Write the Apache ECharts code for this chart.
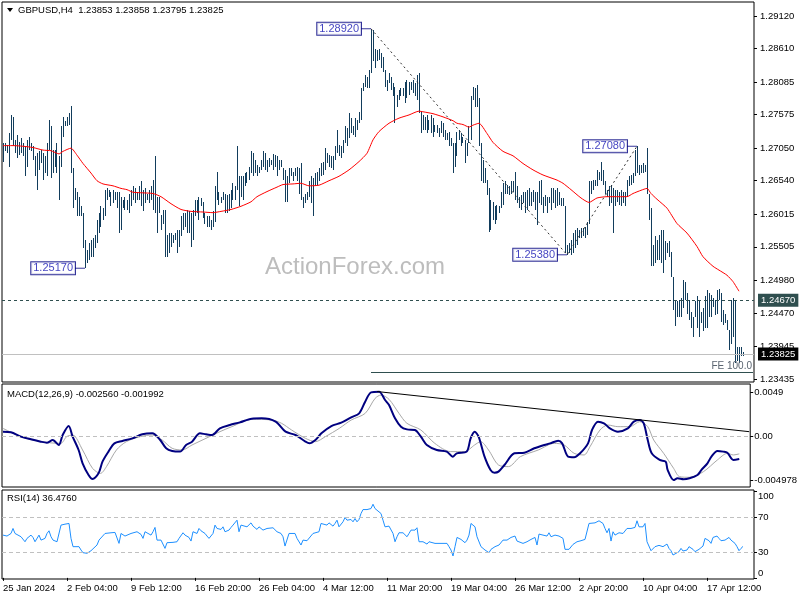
<!DOCTYPE html>
<html><head><meta charset="utf-8">
<script src="https://cdn.jsdelivr.net/npm/echarts@6/dist/echarts.min.js"></script>
<style>html,body{margin:0;padding:0;background:#fff}#c{width:800px;height:600px}</style>
</head><body><div id="c"></div>
<script>
// ---------- DATA ----------
const xTickLabels = ['25 Jan 2024','2 Feb 04:00','9 Feb 12:00','16 Feb 20:00','26 Feb 04:00','4 Mar 12:00','11 Mar 20:00','19 Mar 04:00','26 Mar 12:00','2 Apr 20:00','10 Apr 04:00','17 Apr 12:00'];
const priceTicks = [1.29120,1.28610,1.28085,1.27575,1.27050,1.26540,1.26015,1.25505,1.24980,1.24470,1.23945,1.23435];
const macdTicks = [0.0049, 0, -0.004978];
const macdTickText = ['0.0049', '0.00', '-0.004978'];
const rsiTicks = [100, 70, 30, 0];

const highs = [
1.2713,1.2713,1.2710,1.2728,1.2757,1.2754,1.2718,1.2726,1.2715,1.2721,
1.2713,1.2708,1.2718,1.2723,1.2713,1.2708,1.2692,1.2697,1.2700,1.2702,
1.2697,1.2692,1.2713,1.2749,1.2739,1.2702,1.2702,1.2713,1.2692,1.2739,
1.2754,1.2747,1.2754,1.2760,1.2771,1.2674,1.2642,1.2637,1.2629,1.2614,
1.2603,1.2561,1.2546,1.2556,1.2561,1.2564,1.2569,1.2593,1.2603,1.2614,
1.2611,1.2640,1.2642,1.2640,1.2637,1.2640,1.2637,1.2637,1.2637,1.2629,
1.2624,1.2629,1.2624,1.2634,1.2640,1.2645,1.2642,1.2637,1.2645,1.2653,
1.2640,1.2642,1.2634,1.2640,1.2645,1.2655,1.2692,1.2629,1.2629,1.2601,
1.2608,1.2608,1.2569,1.2572,1.2572,1.2569,1.2572,1.2577,1.2577,1.2598,
1.2603,1.2603,1.2608,1.2606,1.2603,1.2608,1.2624,1.2624,1.2629,1.2627,
1.2621,1.2603,1.2598,1.2598,1.2593,1.2606,1.2645,1.2668,1.2637,1.2629,
1.2637,1.2634,1.2632,1.2634,1.2640,1.2650,1.2645,1.2708,1.2661,1.2661,
1.2661,1.2666,1.2668,1.2676,1.2700,1.2697,1.2687,1.2679,1.2676,1.2687,
1.2700,1.2697,1.2687,1.2689,1.2687,1.2696,1.2694,1.2692,1.2687,1.2687,
1.2674,1.2671,1.2661,1.2674,1.2674,1.2668,1.2674,1.2676,1.2674,1.2681,
1.2629,1.2634,1.2637,1.2653,1.2661,1.2658,1.2666,1.2668,1.2674,1.2681,
1.2684,1.2705,1.2697,1.2694,1.2692,1.2692,1.2708,1.2734,1.2710,1.2708,
1.2718,1.2739,1.2736,1.2760,1.2752,1.2739,1.2752,1.2749,1.2762,1.2799,
1.2807,1.2820,1.2817,1.2827,1.2892,1.2890,1.2861,1.2859,1.2861,1.2854,
1.2848,1.2827,1.2812,1.2822,1.2817,1.2807,1.2801,1.2788,1.2796,1.2799,
1.2799,1.2809,1.2812,1.2809,1.2809,1.2812,1.2807,1.2820,1.2822,1.2762,
1.2757,1.2754,1.2757,1.2749,1.2757,1.2752,1.2741,1.2741,1.2736,1.2747,
1.2744,1.2734,1.2728,1.2731,1.2721,1.2713,1.2713,1.2731,1.2734,1.2728,
1.2723,1.2718,1.2713,1.2739,1.2786,1.2801,1.2799,1.2804,1.2783,1.2713,
1.2687,1.2674,1.2655,1.2642,1.2624,1.2621,1.2614,1.2616,1.2614,1.2637,
1.2650,1.2653,1.2647,1.2645,1.2653,1.2653,1.2668,1.2645,1.2629,1.2632,
1.2637,1.2637,1.2640,1.2642,1.2637,1.2640,1.2637,1.2637,1.2653,1.2655,
1.2629,1.2632,1.2629,1.2629,1.2642,1.2642,1.2640,1.2642,1.2637,1.2627,
1.2627,1.2614,1.2554,1.2556,1.2561,1.2572,1.2577,1.2580,1.2577,1.2580,
1.2580,1.2582,1.2590,1.2653,1.2653,1.2655,1.2655,1.2671,1.2668,1.2684,
1.2671,1.2653,1.2640,1.2645,1.2647,1.2642,1.2640,1.2640,1.2637,1.2640,
1.2637,1.2637,1.2655,1.2661,1.2663,1.2666,1.2702,1.2708,1.2679,1.2679,
1.2681,1.2679,1.2705,1.2634,1.2611,1.2554,1.2567,1.2561,1.2569,1.2577,
1.2577,1.2559,1.2556,1.2559,1.2543,1.2504,1.2467,1.2465,1.2467,1.2470,
1.2499,1.2496,1.2478,1.2467,1.2449,1.2441,1.2465,1.2473,1.2467,1.2449,
1.2454,1.2473,1.2483,1.2478,1.2475,1.2470,1.2467,1.2483,1.2485,1.2478,
1.2452,1.2446,1.2436,1.2420,1.2467,1.2470,1.2467,1.2394,1.2394,1.2394,
1.23858];

const lows = [
1.2684,1.2700,1.2697,1.2676,1.2718,1.2708,1.2697,1.2689,1.2694,1.2697,
1.2692,1.2661,1.2676,1.2702,1.2700,1.2687,1.2661,1.2639,1.2671,1.2681,
1.2655,1.2666,1.2661,1.2702,1.2658,1.2666,1.2676,1.2666,1.2624,1.2676,
1.2723,1.2739,1.2739,1.2741,1.2666,1.2611,1.2624,1.2598,1.2598,1.2598,
1.2548,1.2517,1.2525,1.2530,1.2535,1.2535,1.2548,1.2556,1.2572,1.2582,
1.2593,1.2598,1.2624,1.2629,1.2614,1.2619,1.2624,1.2611,1.2572,1.2577,
1.2611,1.2608,1.2608,1.2603,1.2614,1.2624,1.2619,1.2624,1.2624,1.2614,
1.2606,1.2619,1.2624,1.2619,1.2624,1.2608,1.2603,1.2572,1.2603,1.2577,
1.2587,1.2535,1.2535,1.2541,1.2551,1.2556,1.2561,1.2541,1.2551,1.2567,
1.2577,1.2582,1.2572,1.2572,1.2551,1.2561,1.2598,1.2603,1.2593,1.2614,
1.2595,1.2587,1.2582,1.2582,1.2577,1.2582,1.2590,1.2624,1.2616,1.2619,
1.2624,1.2603,1.2603,1.2606,1.2611,1.2624,1.2624,1.2640,1.2614,1.2629,
1.2624,1.2645,1.2650,1.2655,1.2666,1.2661,1.2666,1.2661,1.2666,1.2671,
1.2676,1.2671,1.2668,1.2676,1.2679,1.2671,1.2676,1.2661,1.2671,1.2676,
1.2655,1.2621,1.2621,1.2650,1.2661,1.2653,1.2661,1.2653,1.2634,1.2624,
1.2611,1.2619,1.2624,1.2629,1.2619,1.2598,1.2645,1.2647,1.2653,1.2661,
1.2663,1.2671,1.2681,1.2676,1.2674,1.2671,1.2687,1.2697,1.2692,1.2689,
1.2697,1.2713,1.2708,1.2721,1.2728,1.2726,1.2723,1.2734,1.2744,1.2749,
1.2794,1.2801,1.2799,1.2799,1.2822,1.2841,1.2830,1.2841,1.2843,1.2830,
1.2825,1.2801,1.2794,1.2807,1.2796,1.2786,1.2744,1.2770,1.2781,1.2786,
1.2786,1.2775,1.2783,1.2788,1.2796,1.2791,1.2786,1.2781,1.2760,1.2728,
1.2734,1.2734,1.2728,1.2734,1.2728,1.2723,1.2731,1.2728,1.2723,1.2728,
1.2723,1.2718,1.2718,1.2708,1.2708,1.2666,1.2676,1.2692,1.2718,1.2708,
1.2713,1.2681,1.2692,1.2713,1.2718,1.2781,1.2770,1.2770,1.2708,1.2653,
1.2650,1.2650,1.2632,1.2574,1.2577,1.2593,1.2587,1.2593,1.2603,1.2611,
1.2616,1.2634,1.2634,1.2632,1.2634,1.2637,1.2624,1.2619,1.2611,1.2608,
1.2619,1.2603,1.2608,1.2614,1.2614,1.2621,1.2608,1.2585,1.2619,1.2616,
1.2603,1.2614,1.2603,1.2619,1.2608,1.2619,1.2611,1.2614,1.2616,1.2614,
1.2614,1.2541,1.2538,1.2541,1.2538,1.2541,1.2548,1.2554,1.2564,1.2564,
1.2567,1.2564,1.2569,1.2587,1.2634,1.2640,1.2645,1.2645,1.2655,1.2653,
1.2647,1.2634,1.2629,1.2614,1.2619,1.2572,1.2614,1.2621,1.2616,1.2614,
1.2619,1.2614,1.2629,1.2645,1.2647,1.2650,1.2661,1.2666,1.2663,1.2666,
1.2666,1.2668,1.2634,1.2593,1.2520,1.2520,1.2525,1.2530,1.2530,1.2525,
1.2509,1.2530,1.2541,1.2535,1.2504,1.2452,1.2426,1.2441,1.2441,1.2441,
1.2454,1.2467,1.2446,1.2436,1.2423,1.2410,1.2441,1.2423,1.2410,1.2431,
1.2418,1.2423,1.2423,1.2441,1.2441,1.2457,1.2444,1.2446,1.2467,1.2433,
1.2428,1.2431,1.2420,1.2389,1.2399,1.2410,1.2368,1.2371,1.2368,1.2379,
1.23795];

// red moving average, read at [bar index, price]
const maPoints = [[0,1.2709],[5,1.2709],[10,1.2708],[15,1.2706],[20,1.2702],[24,1.2701],[28,1.2696],[30,1.2700],[34,1.2705],[37,1.2694],[40,1.2681],[44,1.2666],[47,1.2654],[50,1.2649],[55,1.2646],[59,1.2642],[62,1.2640],[65,1.2636],[70,1.2635],[75,1.2634],[79,1.2629],[84,1.2618],[89,1.2609],[94,1.2606],[100,1.2605],[105,1.2604],[109,1.2606],[114,1.2609],[119,1.2614],[124,1.2621],[127,1.2629],[132,1.2637],[137,1.2644],[140,1.2648],[145,1.2649],[149,1.2650],[153,1.2646],[158,1.2647],[163,1.2654],[168,1.2661],[173,1.2671],[178,1.2684],[182,1.2697],[185,1.2718],[188,1.2731],[193,1.2744],[198,1.2752],[203,1.2757],[208,1.2763],[210,1.2762],[215,1.2759],[220,1.2754],[225,1.2748],[227,1.2744],[230,1.2742],[233,1.2738],[235,1.2741],[238,1.2744],[242,1.2728],[245,1.2714],[250,1.2700],[255,1.2693],[260,1.2681],[265,1.2671],[270,1.2663],[277,1.2655],[280,1.2650],[284,1.2640],[289,1.2627],[293,1.2620],[297,1.2627],[302,1.2629],[308,1.2629],[312,1.2629],[315,1.2634],[319,1.2639],[322,1.2642],[324,1.2634],[327,1.2625],[332,1.2611],[337,1.2587],[342,1.2572],[347,1.2551],[350,1.2535],[355,1.2520],[358,1.2514],[362,1.2506],[365,1.2496],[368,1.2481]];

const macdPoints = [[0,0.00048],[4,0.00041],[9,-0.00007],[14,-0.00037],[19,-0.00063],[22,-0.00074],[25,-0.00045],[28,-0.00100],[30,0.00011],[33,0.00111],[35,-0.00007],[38,-0.00156],[40,-0.00304],[43,-0.00434],[45,-0.00479],[48,-0.00416],[50,-0.00286],[53,-0.00174],[56,-0.00082],[60,-0.00056],[65,-0.00026],[70,0.00019],[75,0.00030],[79,-0.00045],[82,-0.00137],[85,-0.00167],[89,-0.00174],[92,-0.00100],[95,-0.00063],[99,0.00030],[102,0.00019],[105,0.00011],[109,0.00085],[114,0.00122],[119,0.00152],[125,0.00193],[130,0.00197],[137,0.00160],[142,0.00048],[147,0.00011],[152,-0.00063],[154,-0.00082],[157,-0.00045],[160,0.00030],[165,0.00111],[170,0.00148],[175,0.00208],[179,0.00252],[182,0.00382],[185,0.00486],[189,0.00493],[192,0.00401],[194,0.00345],[197,0.00197],[200,0.00104],[203,0.00074],[207,0.00067],[210,-0.00007],[213,-0.00100],[218,-0.00156],[223,-0.00174],[226,-0.00230],[228,-0.00193],[233,-0.00174],[235,-0.00026],[237,0.00048],[239,-0.00007],[242,-0.00230],[245,-0.00378],[247,-0.00408],[249,-0.00397],[252,-0.00323],[257,-0.00193],[262,-0.00186],[267,-0.00137],[272,-0.00100],[275,-0.00082],[279,-0.00052],[281,-0.00082],[284,-0.00230],[287,-0.00237],[290,-0.00193],[294,-0.00082],[296,0.00067],[299,0.00160],[302,0.00141],[305,0.00085],[309,0.00048],[314,0.00085],[317,0.00160],[320,0.00178],[322,0.00141],[324,-0.00045],[326,-0.00193],[330,-0.00267],[333,-0.00286],[334,-0.00378],[337,-0.00490],[339,-0.00471],[342,-0.00482],[345,-0.00471],[349,-0.00434],[351,-0.00378],[354,-0.00304],[356,-0.00230],[359,-0.00167],[362,-0.00174],[364,-0.00186],[367,-0.00267],[370,-0.00256]];

const signalPoints = [[0,0.00085],[9,-0.00007],[19,-0.00063],[29,-0.00082],[32,-0.00007],[35,0.00011],[40,-0.00156],[45,-0.00360],[49,-0.00416],[52,-0.00341],[57,-0.00156],[62,-0.00063],[69,-0.00007],[75,0.00011],[80,-0.00045],[85,-0.00137],[90,-0.00156],[95,-0.00100],[102,-0.00026],[109,0.00048],[115,0.00104],[125,0.00186],[135,0.00178],[140,0.00141],[145,0.00067],[152,-0.00026],[157,-0.00063],[162,-0.00007],[169,0.00085],[175,0.00178],[182,0.00252],[187,0.00419],[190,0.00456],[194,0.00408],[199,0.00252],[203,0.00141],[210,0.00067],[217,-0.00082],[225,-0.00174],[232,-0.00174],[237,-0.00100],[240,-0.00063],[244,-0.00156],[249,-0.00323],[254,-0.00341],[260,-0.00230],[269,-0.00156],[277,-0.00082],[282,-0.00100],[287,-0.00193],[292,-0.00211],[295,-0.00119],[300,0.00067],[304,0.00122],[309,0.00104],[315,0.00104],[320,0.00160],[324,0.00104],[327,-0.00045],[332,-0.00193],[337,-0.00360],[340,-0.00453],[345,-0.00460],[352,-0.00397],[359,-0.00267],[364,-0.00193],[367,-0.00211],[370,-0.00199]];

const rsiPoints = [[0,49.6],[2,48.5],[4,51.5],[5,57.3],[6,51.5],[7,49.6],[9,47.7],[10,46.9],[11,41.9],[12,45.8],[14,49.6],[15,46.9],[16,41.9],[17,43.8],[18,49.6],[19,43.8],[20,41.9],[21,45.8],[22,51.5],[23,54.6],[24,47.7],[25,43.8],[27,41.9],[28,40.0],[29,61.2],[31,62.3],[33,63.1],[34,45.8],[35,36.2],[36,38.1],[38,36.2],[39,32.3],[40,29.2],[41,27.7],[42,28.5],[44,31.5],[45,32.3],[47,38.1],[48,43.8],[49,45.8],[51,51.5],[52,51.5],[54,52.3],[56,52.7],[57,51.5],[58,40.0],[59,51.5],[61,48.5],[62,49.6],[64,51.5],[65,53.5],[67,53.5],[68,55.4],[69,50.4],[70,45.8],[71,53.5],[72,51.5],[74,49.6],[75,53.5],[76,58.5],[77,43.8],[78,44.6],[79,43.8],[80,43.1],[81,34.2],[82,40.8],[83,41.9],[85,41.2],[87,41.9],[88,45.8],[90,52.3],[91,49.6],[93,46.9],[94,42.7],[95,53.5],[97,51.5],[98,57.3],[99,54.6],[101,51.5],[102,48.5],[103,45.8],[105,51.5],[106,61.2],[107,57.3],[108,59.2],[109,56.2],[110,59.2],[111,53.5],[113,55.4],[114,58.5],[115,61.2],[116,63.1],[117,66.9],[118,53.5],[119,61.2],[120,59.2],[122,59.2],[123,57.3],[124,63.8],[125,60.0],[127,56.2],[128,59.2],[130,55.4],[132,57.3],[133,59.2],[135,58.1],[136,57.3],[137,53.5],[138,55.4],[139,51.5],[140,47.7],[141,36.9],[143,51.5],[144,52.3],[146,51.5],[147,45.8],[149,38.1],[150,43.8],[152,43.1],[153,41.9],[155,51.5],[156,52.3],[158,53.5],[159,63.1],[160,63.8],[162,61.2],[163,63.8],[165,60.0],[166,63.1],[167,66.9],[168,59.2],[170,65.0],[171,70.0],[172,66.9],[174,67.7],[175,65.0],[176,68.8],[177,65.0],[178,67.7],[179,74.6],[180,79.2],[182,79.2],[184,80.4],[185,85.4],[186,80.4],[187,78.5],[189,74.6],[190,66.9],[191,59.2],[193,60.0],[194,62.3],[195,51.5],[196,41.9],[197,47.7],[198,52.3],[200,52.3],[201,50.8],[202,47.7],[203,51.5],[204,55.4],[205,53.5],[206,55.4],[207,58.1],[208,41.9],[209,40.8],[210,41.9],[212,39.2],[213,41.9],[214,41.9],[216,40.0],[217,40.8],[218,40.0],[220,40.0],[221,39.2],[222,40.0],[223,36.2],[224,32.3],[225,25.4],[226,36.2],[227,46.9],[228,45.8],[229,44.6],[230,45.8],[231,40.8],[232,43.8],[233,49.6],[234,63.1],[235,63.1],[236,59.2],[237,47.7],[239,36.2],[240,35.0],[241,32.3],[242,34.2],[243,29.2],[244,33.1],[245,34.2],[246,36.2],[248,38.1],[249,40.0],[250,43.8],[252,43.8],[253,45.8],[254,46.9],[256,48.5],[257,42.7],[258,43.1],[260,40.0],[261,40.8],[262,41.9],[264,44.6],[265,42.7],[266,46.9],[267,38.1],[268,50.8],[269,48.5],[270,49.6],[271,47.7],[272,48.5],[273,52.3],[274,47.7],[276,49.6],[277,51.5],[278,48.5],[280,45.8],[281,33.1],[282,33.1],[283,33.1],[284,35.0],[285,38.8],[287,41.9],[288,43.8],[289,43.1],[291,44.6],[292,42.7],[293,63.1],[294,63.8],[296,63.8],[297,65.0],[298,66.2],[300,63.1],[301,57.3],[302,52.3],[303,57.3],[304,42.7],[305,53.5],[306,49.6],[308,52.3],[309,50.8],[310,51.5],[312,57.3],[313,57.3],[314,57.3],[316,58.5],[317,66.2],[318,59.2],[319,61.2],[320,59.2],[321,63.1],[322,41.9],[324,31.5],[325,33.1],[326,36.2],[328,37.7],[329,40.0],[330,36.2],[332,39.2],[333,34.2],[334,31.5],[335,26.5],[336,26.2],[338,30.4],[339,34.2],[340,31.2],[342,32.3],[343,36.2],[344,36.2],[345,33.1],[346,30.4],[348,33.1],[349,31.5],[350,36.9],[351,45.8],[353,43.1],[354,40.0],[355,46.9],[357,48.5],[358,45.8],[359,43.1],[361,43.8],[362,45.8],[363,46.9],[364,43.8],[366,40.0],[367,36.2],[368,31.5],[369,34.2],[370,36.5]];

// swing annotations and Fibonacci-expansion points
const swingIdx = [41, 184, 282, 317];
const swingVal = [1.2517, 1.2892, 1.2538, 1.2708];
const feIdx = [184, 282, 317];
const feVal = [1.2892, 1.2538, 1.2708];
const fe100 = 1.2354;
const levelLine = 1.2467;
const lastPrice = 1.23825;
const macdTrendIdx = [188, 375];
const macdTrendVal = [0.00495, 0.00048];
const rsiLevels = [70, 30];

// ---------- CHART ----------
const N = 376;
const cats = Array.from({length: N}, (_, i) => String(i));
const FONT = '"Liberation Sans", Arial, sans-serif';
const FS = 9.5;
const barColor = '#123d5c';
const tickInt = (i) => i % 32 === 0 && (i / 32) < xTickLabels.length;

const gridBase = {left: 2, right: 46, show: true, borderColor: '#000', borderWidth: 1, backgroundColor: 'transparent'};
const grids = [
  Object.assign({top: 2, height: 380}, gridBase),
  Object.assign({top: 384, height: 103}, gridBase),
  Object.assign({top: 490, height: 89}, gridBase)
];

const xAxes = [0, 1, 2].map(k => ({
  type: 'category', gridIndex: k, data: cats, boundaryGap: true, show: k === 2,
  axisLine: {show: false},
  axisTick: {show: true, alignWithLabel: true, interval: tickInt, length: 3, lineStyle: {color: '#000'}},
  axisLabel: {show: true, interval: tickInt, formatter: (v, i) => xTickLabels[Math.round(Number(v) / 32)],
    align: 'left', fontSize: FS, fontFamily: FONT, color: '#000', margin: 4},
  splitLine: {show: false}
}));

const yCommon = {type: 'value', position: 'right', axisLine: {show: false}, splitLine: {show: false}};
const yAxes = [
  Object.assign({}, yCommon, {gridIndex: 0, min: 1.23388, max: 1.29339,
    axisTick: {show: true, customValues: priceTicks, length: 3, lineStyle: {color: '#000'}},
    axisLabel: {customValues: priceTicks, formatter: v => Number(v).toFixed(5), fontSize: FS, fontFamily: FONT, color: '#000', margin: 6}}),
  Object.assign({}, yCommon, {gridIndex: 1, min: -0.00568, max: 0.00579,
    axisTick: {show: true, customValues: macdTicks, length: 3, lineStyle: {color: '#000'}},
    axisLabel: {customValues: macdTicks, formatter: v => {
      let best = 0; macdTicks.forEach((t, k) => { if (Math.abs(t - v) < Math.abs(macdTicks[best] - v)) best = k; });
      return macdTickText[best]; }, fontSize: FS, fontFamily: FONT, color: '#000', margin: 4}}),
  Object.assign({}, yCommon, {gridIndex: 2, min: -1.3, max: 101.9,
    axisTick: {show: true, customValues: rsiTicks, length: 3, lineStyle: {color: '#000'}},
    axisLabel: {customValues: rsiTicks, formatter: v => v === 100 ? '{t|100}' : (v === 0 ? '{b|0}' : String(v)),
      rich: {t: {padding: [9, 0, 0, 0], fontSize: FS, fontFamily: FONT}, b: {padding: [0, 0, 9, 0], fontSize: FS, fontFamily: FONT}},
      fontSize: FS, fontFamily: FONT, color: '#000', margin: 4}})
];

const series = [
  {
    type: 'custom', name: 'bars', xAxisIndex: 0, yAxisIndex: 0, silent: true, z: 2,
    data: highs.map((h, i) => [i, h, lows[i]]),
    encode: {x: 0, y: [1, 2]},
    renderItem: (params, api) => {
      const i = api.value(0);
      const p1 = api.coord([i, api.value(1)]);
      const p2 = api.coord([i, api.value(2)]);
      const x = Math.floor(p1[0]) + 0.5;
      const y1 = Math.round(p1[1]);
      const y2 = Math.max(Math.round(p2[1]), y1 + 1);
      return {type: 'line', shape: {x1: x, y1: y1, x2: x, y2: y2}, style: {stroke: barColor, lineWidth: 1}};
    }
  },
  {
    type: 'line', name: 'MA', xAxisIndex: 0, yAxisIndex: 0, data: maPoints, showSymbol: false, smooth: 0.2,
    silent: true, z: 3, lineStyle: {color: '#ff0000', width: 1},
    markLine: {
      silent: true, symbol: ['none', 'none'], animation: false, precision: 5,
      data: [
        {yAxis: levelLine, lineStyle: {color: '#2f4f4f', type: [3, 3], width: 1},
          label: {show: true, position: 'end', distance: 4, formatter: levelLine.toFixed(5), backgroundColor: '#2f4f4f',
            color: '#fff', padding: [2, 3, 1, 3], fontSize: FS, fontFamily: FONT}},
        {yAxis: lastPrice, lineStyle: {color: '#c0c0c0', type: 'solid', width: 1},
          label: {show: true, position: 'end', distance: 4, formatter: lastPrice.toFixed(5), backgroundColor: '#000',
            color: '#fff', padding: [2, 3, 1, 3], fontSize: FS, fontFamily: FONT}},
        [{coord: [feIdx[0], fe100], lineStyle: {color: '#2f4f4f', type: 'solid', width: 1},
          label: {show: true, position: 'insideEndTop', distance: 1, formatter: 'FE 100.0', color: '#5a6470', fontSize: 10, fontFamily: FONT}},
         {coord: [N - 1, fe100]}]
      ]
    }
  },
  {
    type: 'line', name: 'FE', xAxisIndex: 0, yAxisIndex: 0, data: feIdx.map((x, k) => [x, feVal[k]]),
    showSymbol: false, silent: true, z: 4, lineStyle: {color: '#303030', type: [2, 3], width: 1}
  },
  {
    type: 'scatter', name: 'swing', xAxisIndex: 0, yAxisIndex: 0, silent: true, z: 5, symbol: 'rect',
    data: swingIdx.map((x, k) => ({value: [x, swingVal[k]]})),
    symbolSize: [10, 1], symbolOffset: [-5, 0],
    itemStyle: {color: '#000080'},
    label: {show: true, position: 'left', distance: 0, formatter: p => swingVal[p.dataIndex].toFixed(5),
      color: '#1010b0', backgroundColor: '#fff', borderColor: '#000080', borderWidth: 1,
      padding: [1, 2, 0, 2], fontSize: 11, fontFamily: FONT}
  },
  {
    type: 'line', name: 'Signal', xAxisIndex: 1, yAxisIndex: 1, data: signalPoints, showSymbol: false, smooth: 0.3,
    silent: true, z: 3, lineStyle: {color: '#a8a8a8', width: 1},
    markLine: {
      silent: true, symbol: ['none', 'none'], animation: false, precision: 6, label: {show: false},
      data: [
        {yAxis: 0, lineStyle: {color: '#c0c0c0', type: [4, 3], width: 1}},
        [{coord: [macdTrendIdx[0], macdTrendVal[0]], lineStyle: {color: '#000', type: 'solid', width: 1}},
         {coord: [macdTrendIdx[1], macdTrendVal[1]]}]
      ]
    }
  },
  {
    type: 'line', name: 'MACD', xAxisIndex: 1, yAxisIndex: 1, data: macdPoints, showSymbol: false, smooth: 0.3,
    silent: true, z: 4, lineStyle: {color: '#000080', width: 2}
  },
  {
    type: 'line', name: 'RSI', xAxisIndex: 2, yAxisIndex: 2, data: rsiPoints, showSymbol: false,
    silent: true, z: 3, lineStyle: {color: '#1e90ff', width: 1},
    markLine: {
      silent: true, symbol: ['none', 'none'], animation: false, label: {show: false},
      data: rsiLevels.map(v => ({yAxis: v, lineStyle: {color: '#c0c0c0', type: [4, 3], width: 1}}))
    }
  }
];

const chart = echarts.init(document.getElementById('c'), null, {renderer: 'canvas'});
chart.setOption({
  animation: false,
  backgroundColor: '#fff',
  grid: grids,
  xAxis: xAxes,
  yAxis: yAxes,
  series: series,
  graphic: [
    {type: 'polygon', shape: {points: [[7, 8], [13, 8], [10, 12]]}, style: {fill: '#000'}, silent: true},
    {type: 'text', left: 18, top: 5, style: {text: 'GBPUSD,H4  1.23853 1.23858 1.23795 1.23825', fill: '#000', font: FS + 'px ' + FONT}, silent: true},
    {type: 'text', left: 7, top: 389, style: {text: 'MACD(12,26,9) -0.002560 -0.001992', fill: '#000', font: FS + 'px ' + FONT}, silent: true},
    {type: 'text', left: 7, top: 493, style: {text: 'RSI(14) 36.4760', fill: '#000', font: FS + 'px ' + FONT}, silent: true},
    {type: 'text', x: 355, y: 267, style: {text: 'ActionForex.com', fill: '#bdbdbd', font: '24px ' + FONT, align: 'center', verticalAlign: 'middle'}, silent: true, z: -1}
  ]
});
</script>
</body></html>
